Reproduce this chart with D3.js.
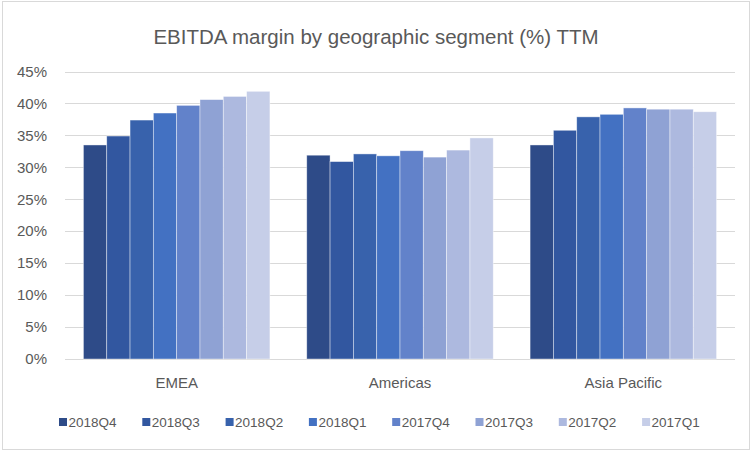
<!DOCTYPE html>
<html><head><meta charset="utf-8">
<script src="https://cdn.jsdelivr.net/npm/d3@7"></script>
<style>body{margin:0;background:#fff}svg{display:block}text{font-family:"Liberation Sans",Arial,sans-serif}</style>
</head><body><svg id="c" width="752" height="452"></svg>
<script>
const categories = ["EMEA", "Americas", "Asia Pacific"];
const seriesNames = ["2018Q4","2018Q3","2018Q2","2018Q1","2017Q4","2017Q3","2017Q2","2017Q1"];
const emea = [33.5, 34.9, 37.4, 38.5, 39.7, 40.6, 41.1, 41.9];
const americas = [31.9, 30.9, 32.1, 31.8, 32.6, 31.6, 32.7, 34.6];
const asiaPacific = [33.5, 35.8, 37.9, 38.3, 39.3, 39.1, 39.1, 38.7];
const yTicks = [0,5,10,15,20,25,30,35,40,45];
const colors = ["#2E4B88","#3257A0","#3862AC","#4371C2","#6282CA","#8FA2D4","#ADB9DF","#C6CEE8"];

const values = [emea, americas, asiaPacific];
const svg = d3.select("#c");
svg.append("rect").attr("x",2.5).attr("y",1.5).attr("width",747).attr("height",448)
  .attr("fill","#fff").attr("stroke","#d9d9d9").attr("stroke-width",1);

const x0 = d3.scaleBand().domain(categories).range([65,735]).paddingInner(0).paddingOuter(0);
const x1 = d3.scaleBand().domain(seriesNames).range([0,x0.bandwidth()]).paddingInner(0).paddingOuter(0.79);
const y = d3.scaleLinear().domain([0,45]).range([359,71.5]);

// gridlines
svg.append("g").selectAll("line").data(yTicks).join("line")
  .attr("x1",65).attr("x2",735).attr("y1",d=>Math.round(y(d))+0.5).attr("y2",d=>Math.round(y(d))+0.5)
  .attr("stroke","#d9d9d9").attr("stroke-width",1);

// y labels
svg.append("g").selectAll("text").data(yTicks).join("text")
  .attr("x",47).attr("y",d=>y(d)).attr("dy","0.35em").attr("text-anchor","end")
  .attr("font-size",15).attr("fill","#595959").text(d=>d+"%");

// bars
const g = svg.append("g");
categories.forEach((c,ci)=>{
  g.append("g").attr("transform",`translate(${x0(c)},0)`)
   .selectAll("rect").data(values[ci]).join("rect")
   .attr("x",(d,i)=>x1(seriesNames[i])).attr("width",x1.bandwidth())
   .attr("y",d=>y(d)).attr("height",d=>y(0)-y(d))
   .attr("fill",(d,i)=>colors[i]).attr("stroke","#ffffff").attr("stroke-opacity",0.55).attr("stroke-width",0.75);
});

// category labels
svg.append("g").selectAll("text").data(categories).join("text")
  .attr("x",d=>x0(d)+x0.bandwidth()/2).attr("y",388).attr("text-anchor","middle")
  .attr("font-size",15).attr("fill","#595959").text(d=>d);

// title
svg.append("text").attr("x",376).attr("y",44).attr("text-anchor","middle")
  .attr("font-size",20.5).attr("fill","#595959").text("EBITDA margin by geographic segment (%) TTM");

// legend
const lg = svg.append("g");
seriesNames.forEach((s,i)=>{
  const lx = 59 + i*83.3;
  lg.append("rect").attr("x",lx).attr("y",418).attr("width",8).attr("height",8).attr("fill",colors[i]);
  lg.append("text").attr("x",lx+9.5).attr("y",422).attr("dy","0.35em").attr("font-size",13.5)
    .attr("fill","#595959").text(s);
});
</script></body></html>
